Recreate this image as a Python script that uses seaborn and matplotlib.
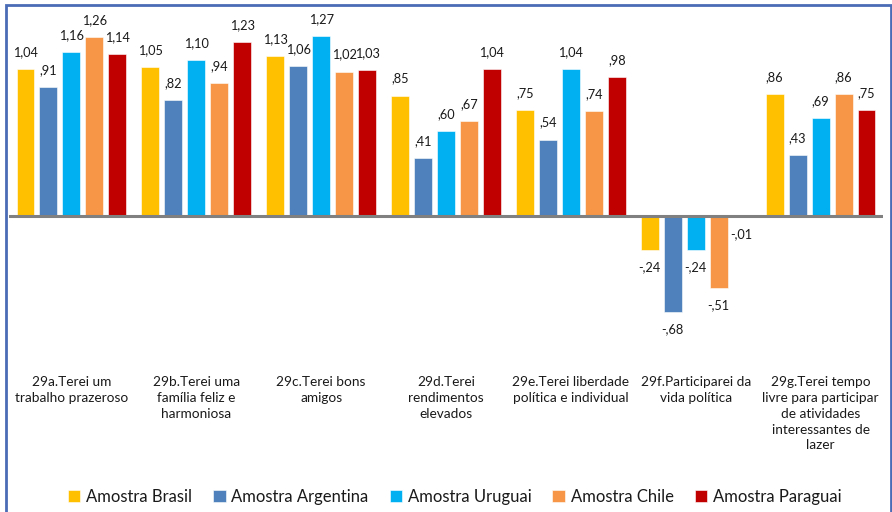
import matplotlib
matplotlib.use("Agg")
import matplotlib.pyplot as plt
from matplotlib.patches import Rectangle
import seaborn as sns
import pandas as pd

categories = [
    "29a.Terei um\ntrabalho prazeroso",
    "29b.Terei uma\nfamília feliz e\nharmoniosa",
    "29c.Terei bons\namigos",
    "29d.Terei\nrendimentos\nelevados",
    "29e.Terei liberdade\npolítica e individual",
    "29f.Participarei da\nvida política",
    "29g.Terei tempo\nlivre para participar\nde atividades\ninteressantes de\nlazer",
]
series_names = ["Amostra Brasil", "Amostra Argentina", "Amostra Uruguai",
                "Amostra Chile", "Amostra Paraguai"]
brasil = [1.04, 1.05, 1.13, 0.85, 0.75, -0.24, 0.86]
argentina = [0.91, 0.82, 1.06, 0.41, 0.54, -0.68, 0.43]
uruguai = [1.16, 1.10, 1.27, 0.60, 1.04, -0.24, 0.69]
chile = [1.26, 0.94, 1.02, 0.67, 0.74, -0.51, 0.86]
paraguai = [1.14, 1.23, 1.03, 1.04, 0.98, -0.01, 0.75]

colors = ["#FFC000", "#4F81BD", "#00B0F0", "#F79646", "#C00000"]

rows = []
for name, vals in zip(series_names, [brasil, argentina, uruguai, chile, paraguai]):
    for cat, v in zip(categories, vals):
        rows.append({"categoria": cat, "amostra": name, "valor": v})
df = pd.DataFrame(rows)

sns.set_theme(style="white")
plt.rcParams["font.family"] = ["Lato", "DejaVu Sans"]

W, H = 892, 512
fig = plt.figure(figsize=(W / 100, H / 100), dpi=100)
ax = fig.add_axes([9 / W, 1 - 365 / H, (883 - 9) / W, (365 - 10) / H])

sns.barplot(data=df, x="categoria", y="valor", hue="amostra",
            order=categories, hue_order=series_names, palette=colors,
            width=0.92, gap=0.22, saturation=1, errorbar=None,
            edgecolor="white", linewidth=0.4, ax=ax)

ax.set_ylim(-1.051, 1.454)
ax.set_xlim(-0.5, len(categories) - 0.5)
ax.axhline(0, color="#808080", lw=2.2, zorder=3)


def fmt(v):
    s = f"{abs(v):.2f}".replace(".", ",")
    if s.startswith("0"):
        s = s[1:]
    return ("-" if v < 0 else "") + s


for container in ax.containers:
    for bar in container:
        h = bar.get_height()
        x = bar.get_x() + bar.get_width() / 2
        off = 12.2 if h >= 0 else -12.2
        ax.annotate(fmt(h), (x, h), xytext=(0, off), textcoords="offset points",
                    ha="center", va="center", fontsize=9.2, color="#1a1a1a")

for s in ax.spines.values():
    s.set_visible(False)
ax.set_yticks([])
ax.set_xlabel("")
ax.set_ylabel("")
ax.tick_params(axis="x", length=0, pad=8, labelsize=9.8, colors="#1a1a1a")
for lbl in ax.get_xticklabels():
    lbl.set_linespacing(1.38)
    lbl.set_verticalalignment("top")

leg = ax.legend(loc="center", bbox_to_anchor=(0.51, (365 - 497) / (365 - 10)),
                ncol=5, frameon=False, fontsize=12, handlelength=0.75,
                handleheight=0.75, handletextpad=0.35, columnspacing=1.25,
                labelcolor="#1a1a1a")

fig.patches.append(Rectangle((6 / W, -0.02), (891 - 6) / W, 1 - 5 / H + 0.02,
                             transform=fig.transFigure, fill=False,
                             edgecolor="#4A6BB5", lw=2.0))

fig.savefig("out.png", dpi=100)
